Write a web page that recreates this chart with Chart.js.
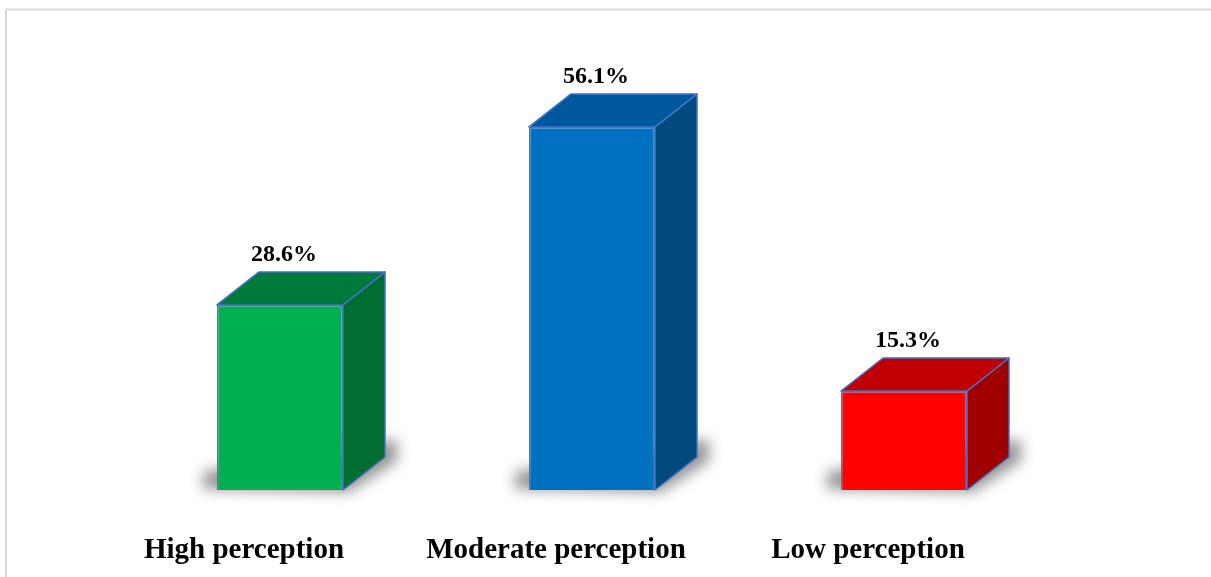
<!DOCTYPE html>
<html>
<head>
<meta charset="utf-8">
<script src="https://cdn.jsdelivr.net/npm/chart.js@4/dist/chart.umd.min.js"></script>
<style>
  html, body { margin: 0; padding: 0; background: #ffffff; }
  #wrap { width: 1211px; height: 577px; position: relative; }
  #chart { display: block; }
</style>
</head>
<body>
<div id="wrap"><canvas id="chart" width="1211" height="577"></canvas></div>
<script>
// Perception levels and their shares (%)
const categories = ['High perception', 'Moderate perception', 'Low perception'];
const percentages = [28.6, 56.1, 15.3];

// Face colours for each box: front, top, side
const frontColors = ['#00B050', '#0070C0', '#FF0000'];
const topColors   = ['#007A3A', '#00589C', '#C00000'];
const sideColors  = ['#006E31', '#004A80', '#A00000'];
const edgeColor = '#4472C4';

// Depth of the extruded boxes, in pixels
const DEPTH_X = 42;
const DEPTH_Y = 33;

const frame = {
  id: 'frame',
  beforeDraw(chart) {
    const ctx = chart.ctx;
    ctx.save();
    ctx.strokeStyle = '#d9d9d9';
    ctx.lineWidth = 2;
    ctx.beginPath();
    ctx.moveTo(6, chart.height);
    ctx.lineTo(6, 9.5);
    ctx.lineTo(chart.width, 9.5);
    ctx.stroke();
    ctx.restore();
  }
};

function boxGeometry(bar) {
  const p = bar.getProps(['x', 'y', 'base', 'width'], true);
  return { x0: p.x - p.width / 2, x1: p.x + p.width / 2, top: p.y, bottom: p.base };
}

const boxes = {
  id: 'boxes',
  beforeDatasetsDraw(chart) {
    // soft ground shadow around the foot of each box
    const ctx = chart.ctx;
    const meta = chart.getDatasetMeta(0);
    meta.data.forEach((bar) => {
      const g = boxGeometry(bar);
      ctx.save();
      ctx.filter = 'blur(7px)';
      ctx.fillStyle = 'rgba(0,0,0,0.42)';
      ctx.beginPath();
      ctx.moveTo(g.x0 - 14, g.bottom - 18);
      ctx.lineTo(g.x1 + DEPTH_X + 12, g.bottom - DEPTH_Y - 18);
      ctx.lineTo(g.x1 + DEPTH_X + 12, g.bottom - DEPTH_Y + 4);
      ctx.lineTo(g.x1 + 6, g.bottom + 2);
      ctx.lineTo(g.x0 - 14, g.bottom - 1);
      ctx.closePath();
      ctx.fill();
      ctx.restore();
    });
  },
  afterDatasetsDraw(chart) {
    const ctx = chart.ctx;
    const meta = chart.getDatasetMeta(0);
    meta.data.forEach((bar, i) => {
      const g = boxGeometry(bar);
      ctx.save();
      ctx.lineJoin = 'round';
      ctx.lineWidth = 1.5;
      ctx.strokeStyle = edgeColor;

      // side face
      ctx.fillStyle = sideColors[i];
      ctx.beginPath();
      ctx.moveTo(g.x1, g.top);
      ctx.lineTo(g.x1 + DEPTH_X, g.top - DEPTH_Y);
      ctx.lineTo(g.x1 + DEPTH_X, g.bottom - DEPTH_Y);
      ctx.lineTo(g.x1, g.bottom);
      ctx.closePath();
      ctx.fill();
      ctx.stroke();

      // top face
      ctx.fillStyle = topColors[i];
      ctx.beginPath();
      ctx.moveTo(g.x0, g.top);
      ctx.lineTo(g.x0 + DEPTH_X, g.top - DEPTH_Y);
      ctx.lineTo(g.x1 + DEPTH_X, g.top - DEPTH_Y);
      ctx.lineTo(g.x1, g.top);
      ctx.closePath();
      ctx.fill();
      ctx.stroke();

      // value label above the box
      ctx.fillStyle = '#000000';
      ctx.font = 'bold 24px "Liberation Serif", "Times New Roman", serif';
      ctx.textAlign = 'center';
      ctx.textBaseline = 'alphabetic';
      const v = chart.data.datasets[0].data[i];
      ctx.fillText(v.toFixed(1) + '%', (g.x0 + g.x1) / 2 + 4, g.top - DEPTH_Y - 11);
      ctx.restore();
    });
  }
};

new Chart(document.getElementById('chart'), {
  type: 'bar',
  data: {
    labels: categories,
    datasets: [{
      data: percentages,
      backgroundColor: frontColors,
      borderColor: edgeColor,
      borderWidth: 1.5,
      barPercentage: 0.404,
      categoryPercentage: 1.0
    }]
  },
  options: {
    responsive: false,
    animation: false,
    devicePixelRatio: 1,
    layout: { padding: { top: 37, left: 124, right: 151, bottom: 0 } },
    plugins: {
      legend: { display: false },
      tooltip: { enabled: false }
    },
    scales: {
      x: {
        grid: { display: false, drawTicks: false },
        border: { display: false },
        afterFit(scale) { scale.height = 87; },
        ticks: {
          color: '#000000',
          padding: 43,
          labelOffset: -36,
          maxRotation: 0,
          font: { family: '"Liberation Serif", "Times New Roman", serif', size: 29, weight: 'bold' }
        }
      },
      y: {
        display: false,
        min: 0,
        max: 70
      }
    }
  },
  plugins: [frame, boxes]
});
</script>
</body>
</html>
